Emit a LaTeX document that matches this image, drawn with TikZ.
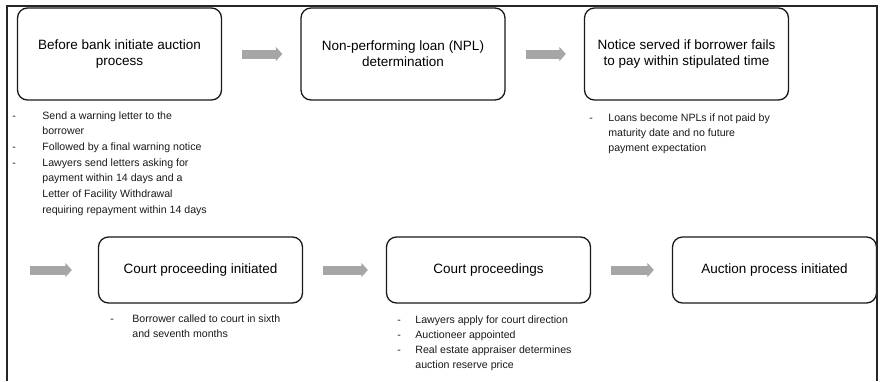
\documentclass[tikz,border=0pt]{standalone}
\usepackage{fontspec}
\setmainfont{Liberation Sans}
\usetikzlibrary{arrows.meta}

\newcommand{\notedash}[1]{\makebox[#1][l]{-}}

\begin{document}
\begin{tikzpicture}[
    x=1pt,
    y=-1pt,
    thick
]

% =========================
% Styles
% =========================
\tikzstyle{stage} = [
    rectangle, draw=black!90,
    line width=1.3pt,
    rounded corners=10pt,
    minimum width=204pt,
    align=center,
    inner sep=0pt,
    font=\fontsize{13.5}{16}\selectfont
]

\tikzstyle{tall} = [minimum height=92pt]
\tikzstyle{short} = [minimum height=66pt]

\tikzstyle{note} = [
    anchor=north west,
    align=left,
    inner sep=0pt,
    text=black!90,
    font=\fontsize{10.6}{15}\selectfont
]

\tikzstyle{flow} = [
    draw, black!35,
    line width=9pt,
    shorten <=20pt,
    shorten >=18pt,
    -{Triangle[length=6.5pt, width=14pt]}
]

\useasboundingbox (0,0) rectangle (880,381);

% =========================
% Nodes (FIXED POSITIONS)
% =========================
\node[stage, tall] (before) at (119.5,54)
    {Before bank initiate auction\\process};

\node[stage, tall] (npl) at (403,54)
    {Non-performing loan (NPL)\\determination};

\node[stage, tall] (notice) at (686.5,54)
    {Notice served if borrower fails\\to pay within stipulated time};

\node[stage, short] (court) at (200.5,270)
    {Court proceeding initiated};

\node[stage, short] (hearing) at (488.5,270)
    {Court proceedings};

\node[stage, short] (auction) at (774.5,270)
    {Auction process initiated};

\coordinate (wrap) at (30,270);

% =========================
% Notes
% =========================
\node[note, font=\fontsize{10.6}{15.7}\selectfont] (beforenote) at (12,111)
    {\notedash{30pt}Send a warning letter to the\\
     \hspace*{30pt}borrower\\
     \notedash{30pt}Followed by a final warning notice\\
     \notedash{30pt}Lawyers send letters asking for\\
     \hspace*{30pt}payment within 14 days and a\\
     \hspace*{30pt}Letter of Facility Withdrawal\\
     \hspace*{30pt}requiring repayment within 14 days};

\node[note] (noticenote) at (589,113)
    {\notedash{19pt}Loans become NPLs if not paid by\\
     \hspace*{19pt}maturity date and no future\\
     \hspace*{19pt}payment expectation};

\node[note] (courtnote) at (110,314)
    {\notedash{22pt}Borrower called to court in sixth\\
     \hspace*{22pt}and seventh months};

\node[note] (hearingnote) at (397,315)
    {\notedash{18pt}Lawyers apply for court direction\\
     \notedash{18pt}Auctioneer appointed\\
     \notedash{18pt}Real estate appraiser determines\\
     \hspace*{18pt}auction reserve price};

% =========================
% Connections
% =========================
\path[flow] (before) -- (npl);
\path[flow] (npl) -- (notice);
\path[flow, shorten <=0pt, shorten >=26pt] (wrap) -- (court);
\path[flow] (court) -- (hearing);
\path[flow] (hearing) -- (auction);

% =========================
% Frame
% =========================
\draw[line width=2pt, black!85] (7,381) -- (7,6) -- (877,6) -- (877,381);

\end{tikzpicture}
\end{document}
